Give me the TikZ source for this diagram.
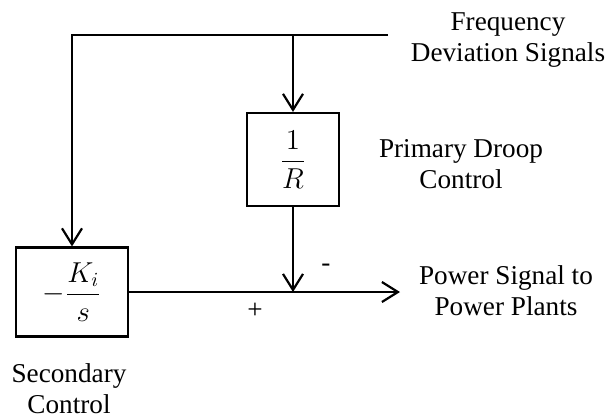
\documentclass[tikz,border=0pt]{standalone}
\usepackage{amsmath}
\usepackage{fontspec}
\setmainfont{Liberation Serif}
\usetikzlibrary{arrows.meta}
\tikzset{
  blk/.style={draw, line width=1.1pt, inner sep=0pt,
              font=\fontsize{14}{16}\selectfont},
  lbl/.style={align=center, inner sep=0pt,
              font=\fontsize{13.6}{15.5}\selectfont},
  sgn/.style={inner sep=0pt, font=\fontsize{13.6}{15.5}\selectfont},
  ar/.style={-{Straight Barb[length=8pt,width=10pt,line width=1.1pt]}, line width=1.1pt},
}

\begin{document}
\begin{tikzpicture}[x=0.5pt, y=-0.5pt]
  \useasboundingbox (0,0) rectangle (607,418);
  % blocks
  \node[blk, minimum width=46pt, minimum height=46.5pt] (droop) at (293,159.5)
    {$\dfrac{1}{R}$};
  \node[blk, minimum width=56pt, minimum height=44.5pt] (integ) at (72,292)
    {$-\dfrac{K_i}{s}$};
  % signal points
  \coordinate (fin) at (388,35);
  \coordinate (split) at (293,35);
  \coordinate (sum) at (293,292);
  \coordinate (out) at (400,292);
  % connectors
  \draw[ar] (fin) -| (integ);
  \draw[ar] (split) -- (droop);
  \draw[ar] (droop) -- (sum);
  \draw[ar] (integ) -- (out);
  % labels
  \node[lbl] (freqlbl) at (508,40) {Frequency\\Deviation Signals};
  \node[lbl] (droollbl) at (461,164) {Primary Droop\\Control};
  \node[lbl] (outlbl) at (506,291) {Power Signal to\\Power Plants};
  \node[lbl] (seclbl) at (69,389) {Secondary\\Control};
  \node[sgn] (minus) at (326,268) {-};
  \node[sgn] (plus) at (255,311) {+};
\end{tikzpicture}
\end{document}
